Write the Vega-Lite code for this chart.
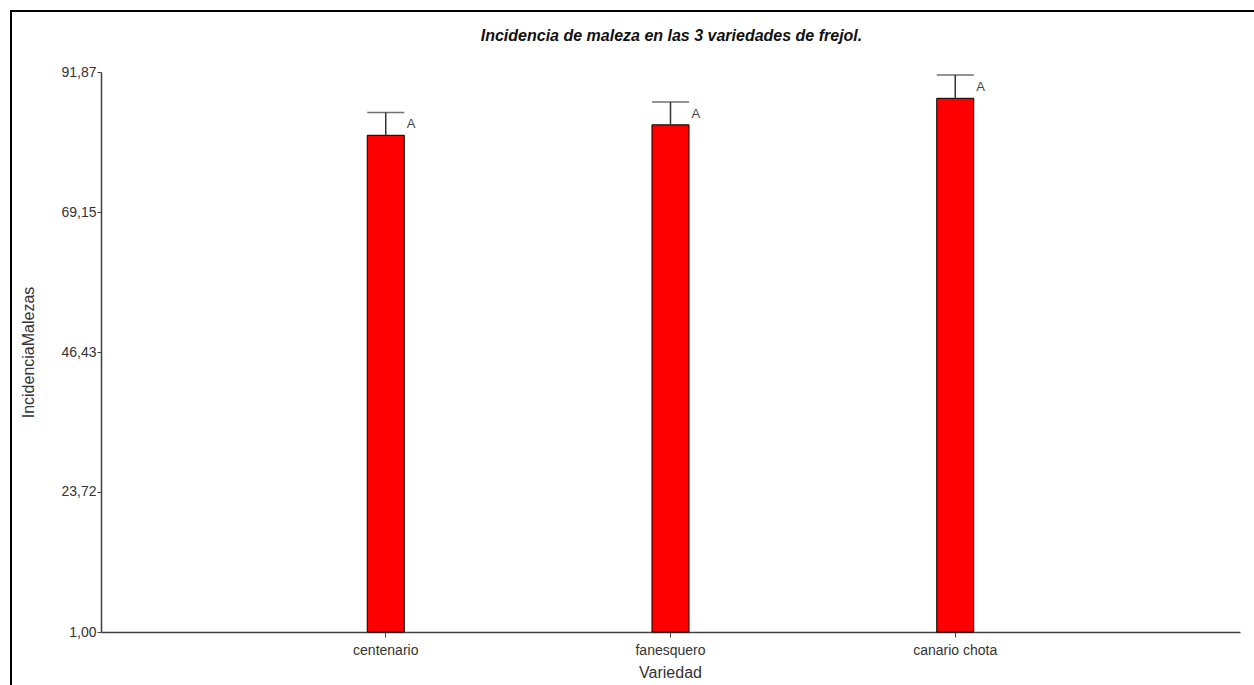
{
  "$schema": "https://vega.github.io/schema/vega-lite/v6.json",
  "autosize": "none",
  "width": 1243,
  "height": 674,
  "padding": {"left": 11, "top": 11, "right": 0, "bottom": 0},
  "background": "white",
  "config": {
    "view": {"stroke": "#000", "strokeWidth": 2, "strokeDash": [1243, 1917, 674]},
    "font": "Liberation Sans"
  },
  "title": {
    "text": "Incidencia de maleza en las 3 variedades de frejol.",
    "font": "Liberation Sans",
    "fontSize": 16,
    "fontStyle": "italic",
    "fontWeight": "bold",
    "color": "#111",
    "anchor": "middle",
    "baseline": "middle",
    "offset": -24,
    "dx": 39,
    "dy": 17
  },
  "data": {
    "values": [
      {"Variedad": "centenario", "media": 81.6, "sup": 85.3, "letra": "A"},
      {"Variedad": "fanesquero", "media": 83.3, "sup": 87.0, "letra": "A"},
      {"Variedad": "canario chota", "media": 87.6, "sup": 91.4, "letra": "A"}
    ]
  },
  "encoding": {
    "x": {
      "field": "Variedad",
      "type": "nominal",
      "sort": null,
      "scale": {"type": "band", "range": [90, 1229], "paddingInner": 0.87, "paddingOuter": 0.935},
      "axis": {
        "orient": "bottom",
        "offset": -53,
        "labelAngle": 0,
        "labelFontSize": 14,
        "labelColor": "#333",
        "labelPadding": 6,
        "tickSize": 5,
        "tickColor": "#404040",
        "domainColor": "#404040",
        "domainWidth": 1.5,
        "grid": false,
        "title": "Variedad",
        "titleFontSize": 16,
        "titleFontWeight": "normal",
        "titleColor": "#333",
        "titleX": 659,
        "titleY": 40,
        "titleAlign": "center",
        "titleBaseline": "middle"
      }
    }
  },
  "layer": [
    {
      "mark": {"type": "bar", "color": "#FF0000", "stroke": "#000", "strokeWidth": 1},
      "encoding": {
        "y": {
          "field": "media",
          "type": "quantitative",
          "scale": {"domain": [1, 91.87], "range": [621, 61], "nice": false, "zero": false},
          "axis": {
            "orient": "left",
            "offset": -90,
            "values": [1, 23.72, 46.43, 69.15, 91.87],
            "labelExpr": "replace(format(datum.value, '.2f'), '.', ',')",
            "labelFontSize": 14,
            "labelColor": "#333",
            "labelPadding": 1,
            "tickSize": 4,
            "tickColor": "#404040",
            "domainColor": "#404040",
            "domainWidth": 1.5,
            "grid": false,
            "title": "IncidenciaMalezas",
            "titleFontSize": 16,
            "titleFontWeight": "normal",
            "titleColor": "#333",
            "titleX": -73,
            "titleY": 341,
            "titleAngle": -90,
            "titleAlign": "center",
            "titleBaseline": "middle"
          }
        },
        "y2": {"datum": 1}
      }
    },
    {
      "mark": {"type": "rule", "color": "#333", "strokeWidth": 1.5},
      "encoding": {
        "y": {"field": "media", "type": "quantitative"},
        "y2": {"field": "sup"}
      }
    },
    {
      "mark": {"type": "tick", "color": "#333", "thickness": 1.5, "size": 37},
      "encoding": {
        "y": {"field": "sup", "type": "quantitative"}
      }
    },
    {
      "mark": {"type": "text", "align": "left", "baseline": "middle", "dx": 21, "dy": 12, "fontSize": 13, "color": "#444"},
      "encoding": {
        "y": {"field": "sup", "type": "quantitative"},
        "text": {"field": "letra"}
      }
    }
  ]
}
